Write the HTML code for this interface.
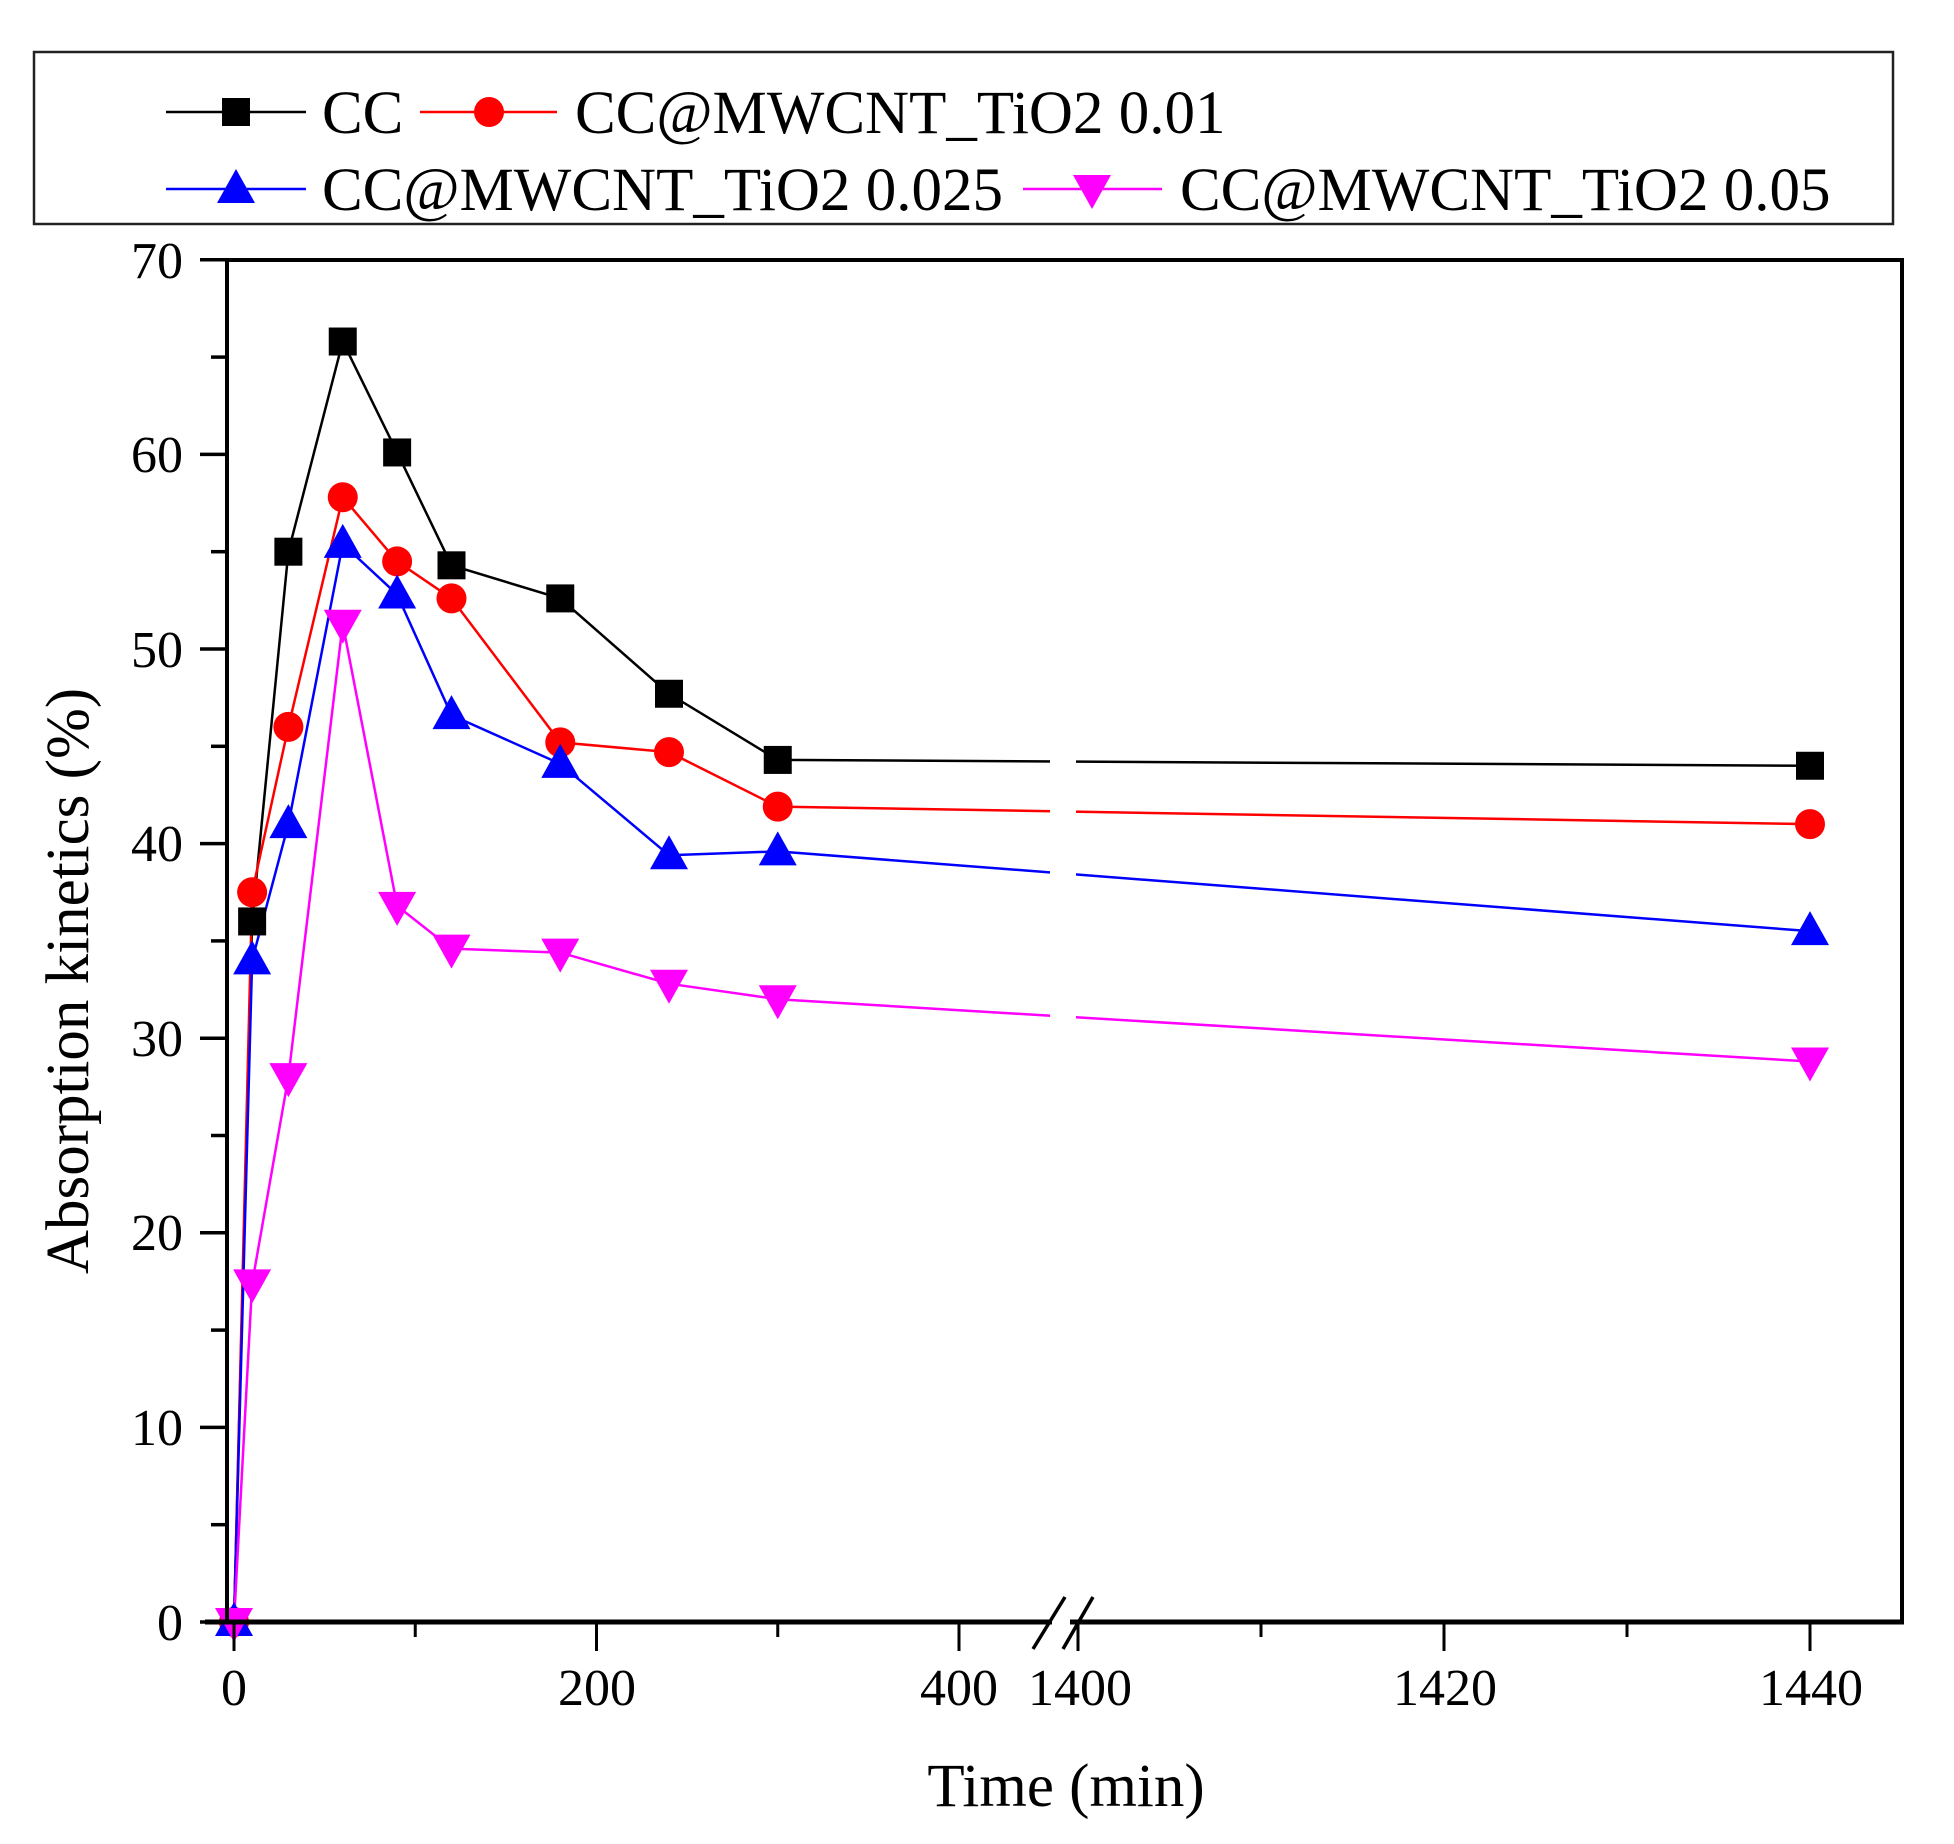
<!DOCTYPE html>
<html><head><meta charset="utf-8"><style>
html,body{margin:0;padding:0;background:#fff;}
svg{display:block;}
text{font-family:"Liberation Serif","DejaVu Serif",serif;fill:#000;}
</style></head><body>
<svg id="s" width="1954" height="1844" viewBox="0 0 1954 1844" xmlns="http://www.w3.org/2000/svg">
<rect width="1954" height="1844" fill="#fff"/>
<!-- legend -->
<rect x="34" y="52" width="1859" height="172" fill="none" stroke="#222" stroke-width="2.5"/>
<g font-size="61">
<text x="322" y="133">CC</text>
<text x="575" y="133">CC@MWCNT_TiO2 0.01</text>
<text x="322" y="210">CC@MWCNT_TiO2 0.025</text>
<text x="1180" y="210">CC@MWCNT_TiO2 0.05</text>
</g>
<!-- axis labels -->
<g font-size="52" text-anchor="end">
<text x="183" y="1640">0</text>
<text x="183" y="1445">10</text>
<text x="183" y="1250">20</text>
<text x="183" y="1056">30</text>
<text x="183" y="861">40</text>
<text x="183" y="667">50</text>
<text x="183" y="472">60</text>
<text x="183" y="278">70</text>
</g>
<g font-size="52" text-anchor="middle">
<text x="234" y="1705">0</text>
<text x="597" y="1705">200</text>
<text x="959" y="1705">400</text>
<text x="1080" y="1705">1400</text>
<text x="1445" y="1705">1420</text>
<text x="1811" y="1705">1440</text>
</g>
<text x="1066" y="1806" font-size="61" text-anchor="middle">Time (min)</text>
<text transform="translate(88,981) rotate(-90)" font-size="61" text-anchor="middle">Absorption kinetics (%)</text>
<g id="plot"></g>
</svg>
<script>
var NS="http://www.w3.org/2000/svg",g=document.getElementById('plot');
function el(t,a){var e=document.createElementNS(NS,t);for(var k in a)e.setAttribute(k,a[k]);g.appendChild(e);return e;}
function X(t){return t<=400?234+t*1.8125:1078+(t-1400)*18.3;}
function Y(v){return 1622-v*19.46;}
var T=[0,10,30,60,90,120,180,240,300,1440];
var S=[
 {c:'#000',m:'sq',d:[0,36,55,65.8,60.1,54.3,52.6,47.7,44.3,44.0]},
 {c:'#f00',m:'ci',d:[0,37.5,46,57.8,54.5,52.6,45.2,44.7,41.9,41.0]},
 {c:'#00f',m:'up',d:[0,34,41,55.4,52.8,46.6,44.1,39.4,39.6,35.5]},
 {c:'#f0f',m:'dn',d:[0,17.4,28,51.3,36.8,34.6,34.4,32.8,32,28.8]}];
function mk(m,x,y,c){
 if(m=='sq')el('rect',{x:x-14,y:y-14,width:28,height:28,fill:c});
 else if(m=='ci')el('circle',{cx:x,cy:y,r:15,fill:c});
 else if(m=='up')el('polygon',{points:(x-19)+','+(y+14)+' '+(x+19)+','+(y+14)+' '+x+','+(y-20),fill:c});
 else el('polygon',{points:(x-19)+','+(y-14)+' '+(x+19)+','+(y-14)+' '+x+','+(y+20),fill:c});
}
// lines
S.forEach(function(s){
 var p=T.map(function(t,i){return X(t)+','+Y(s.d[i]);}).join(' ');
 el('polyline',{points:p,fill:'none',stroke:s.c,'stroke-width':2.5});
});
// gap in lines at break
el('rect',{x:1050,y:700,width:26,height:500,fill:'#fff'});
S.forEach(function(s){T.forEach(function(t,i){mk(s.m,X(t),Y(s.d[i]),s.c);});});
// legend samples
[[166,306,236,112,0],[420,557,489,112,1],[166,306,236,189,2],[1023,1162,1092,189,3]].forEach(function(a){
 var s=S[a[4]];el('line',{x1:a[0],x2:a[1],y1:a[3],y2:a[3],stroke:s.c,'stroke-width':2.5});mk(s.m,a[2],a[3],s.c);
});
// frame
el('polyline',{points:'227,1622 227,260 1902,260 1902,1622',fill:'none',stroke:'#000','stroke-width':4});
el('line',{x1:205,x2:1904,y1:1622,y2:1622,stroke:'#000','stroke-width':5});
// y ticks
for(var v=0;v<=70;v+=5){var y=Y(v);el('line',{x1:v%10?211:200,x2:227,y1:y,y2:y,stroke:'#000','stroke-width':3.5});}
// x ticks
[[0,1],[100,0],[200,1],[300,0],[400,1],[1400,1],[1410,0],[1420,1],[1430,0],[1440,1]].forEach(function(a){
 var x=X(a[0]);el('line',{x1:x,x2:x,y1:1622,y2:a[1]?1651:1637,stroke:'#000','stroke-width':3});
});
// break
el('rect',{x:1052,y:1615,width:18,height:14,fill:'#fff'});
el('line',{x1:1033,y1:1649,x2:1065,y2:1597,stroke:'#000','stroke-width':3.5});
el('line',{x1:1063,y1:1649,x2:1093,y2:1597,stroke:'#000','stroke-width':3.5});
</script>
</body></html>
